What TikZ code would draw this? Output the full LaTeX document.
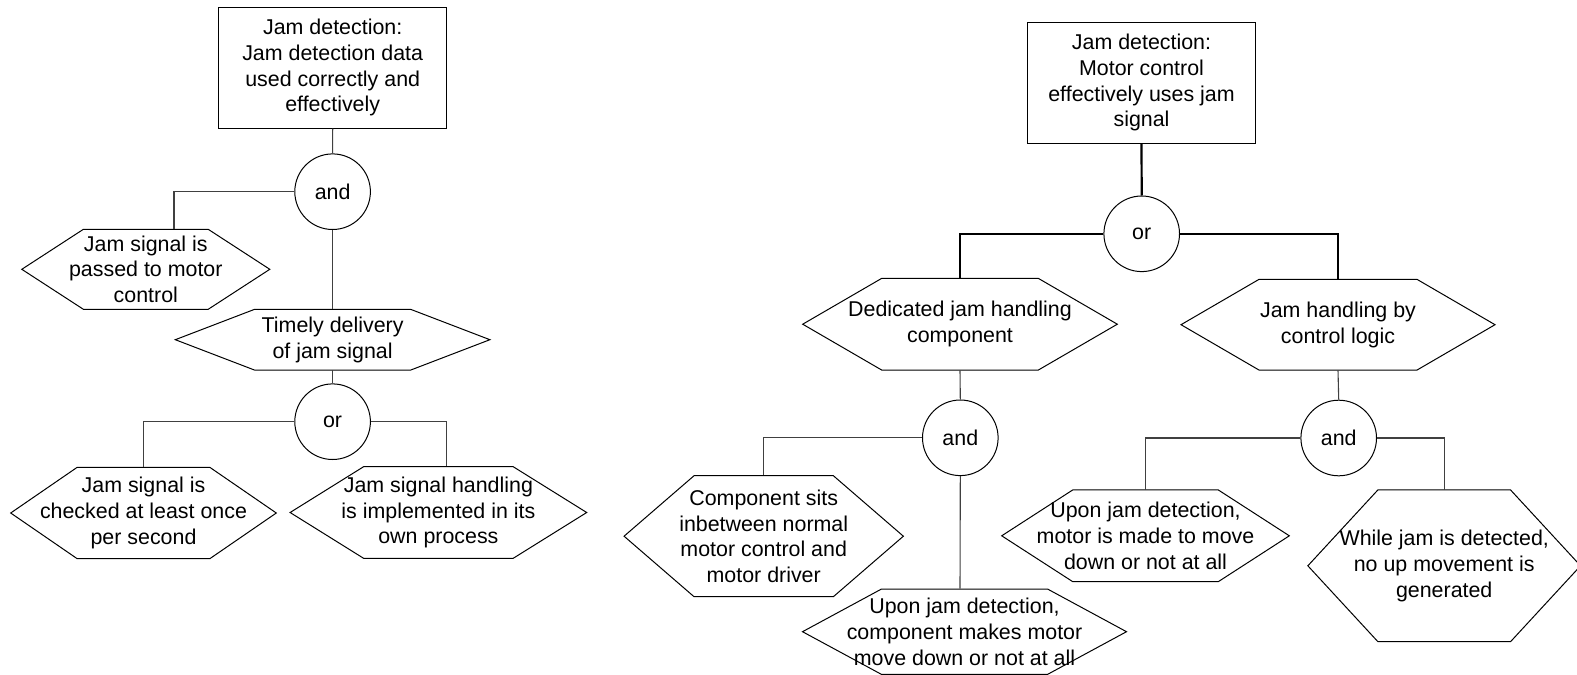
\documentclass[tikz,border=0pt]{standalone}
\usepackage{fontspec}
\setmainfont{Liberation Sans}
\tikzset{
  lbl/.style={font=\fontsize{10.7pt}{12.85pt}\selectfont, align=center, inner sep=0pt},
  boxnode/.style={lbl, draw, line width=0.5pt, minimum width=113.8pt, minimum height=60.5pt},
  gate/.style={lbl, draw, circle, line width=0.5pt, minimum size=37.8pt},
  hexin/.style={lbl},
  hexline/.style={line width=0.5pt},
  conn/.style={line width=0.55pt, draw=black!75},
  thickconn/.style={line width=1.1pt, draw=black},
}
\newcommand\hexnode[7]{%
  \pgfmathsetmacro\hexw{#4*0.5}%
  \pgfmathsetmacro\hexh{#5*0.5}%
  \node[hexin, minimum width=\hexw pt, minimum height=\hexh pt] (#1) at (#2,#3) {#7};
  \draw[hexline] ({#2-#4/2},{#3}) -- ({#2-#4/2+#6},{#3-#5/2}) -- ({#2+#4/2-#6},{#3-#5/2}) -- ({#2+#4/2},{#3}) -- ({#2+#4/2-#6},{#3+#5/2}) -- ({#2-#4/2+#6},{#3+#5/2}) -- cycle;
}
\begin{document}
\begin{tikzpicture}[x=0.5pt,y=-0.5pt]
\useasboundingbox (0,0) rectangle (1577,674);
\clip (0,0) rectangle (1577,674);
% ---------- left tree ----------
\node[boxnode] (top1) at (332.7,67.7) {Jam detection:\\Jam detection data\\used correctly and\\effectively};
\node[gate] (and1) at (332.6,191.7) {and};
\hexnode{hA1}{145.8}{269.3}{248}{80}{61.6}{Jam signal is\\passed to motor\\control}
\hexnode{hT}{332.6}{339.7}{314.6}{60.7}{79.2}{Timely delivery\\of jam signal}
\node[gate] (or1) at (332.6,421.7) {or};
\hexnode{hB1}{143.5}{513}{265.6}{91.4}{66.5}{Jam signal is\\checked at least once\\per second}
\hexnode{hB2}{438.4}{512.5}{296.6}{91.6}{73.5}{Jam signal handling\\is implemented in its\\own process}
\draw[conn] (top1.south) -- (and1.north);
\draw[conn] (and1.west) -| ([xshift=14.1pt]hA1.north);
\draw[conn] (and1.south) -- (hT.north);
\draw[conn] (hT.south) -- (or1.north);
\draw[conn] (or1.west) -| (hB1.north);
\draw[conn] (or1.east) -| ([xshift=3.9pt]hB2.north);
% ---------- right tree ----------
\node[boxnode] (top2) at (1141.5,82.8) {Jam detection:\\Motor control\\effectively uses jam\\signal};
\node[gate] (or2) at (1141.7,233.8) {or};
\hexnode{hD}{960}{324.2}{314.6}{91.7}{79}{Dedicated jam handling\\component}
\hexnode{hJ}{1338}{324.7}{314}{90.7}{78}{Jam handling by\\control logic}
\node[gate] (and2) at (960.3,437.8) {and};
\node[gate] (and3) at (1338.7,438) {and};
\hexnode{hC1}{763.7}{536.2}{279.3}{121}{70}{Component sits\\inbetween normal\\motor control and\\motor driver}
\hexnode{hC2}{964.5}{631.7}{324}{85.4}{79}{Upon jam detection,\\component makes motor\\move down or not at all}
\hexnode{hE1}{1145.5}{535.8}{287.6}{91.7}{71}{Upon jam detection,\\motor is made to move\\down or not at all}
\hexnode{hE2}{1444.2}{565.8}{272.7}{151.7}{70}{While jam is detected,\\no up movement is\\generated}
\draw[thickconn] (top2.south) -- (or2.north);
\draw[thickconn] (or2.west) -| (hD.north);
\draw[thickconn] (or2.east) -| (hJ.north);
\draw[conn] (hD.south) -- (and2.north);
\draw[conn] (and2.west) -| (hC1.north);
\draw[conn] (and2.south) -- ([xshift=-2.25pt]hC2.north);
\draw[conn] (hJ.south) -- (and3.north);
\draw[conn] (and3.west) -| (hE1.north);
\draw[conn] (and3.east) -| (hE2.north);
\end{tikzpicture}
\end{document}
